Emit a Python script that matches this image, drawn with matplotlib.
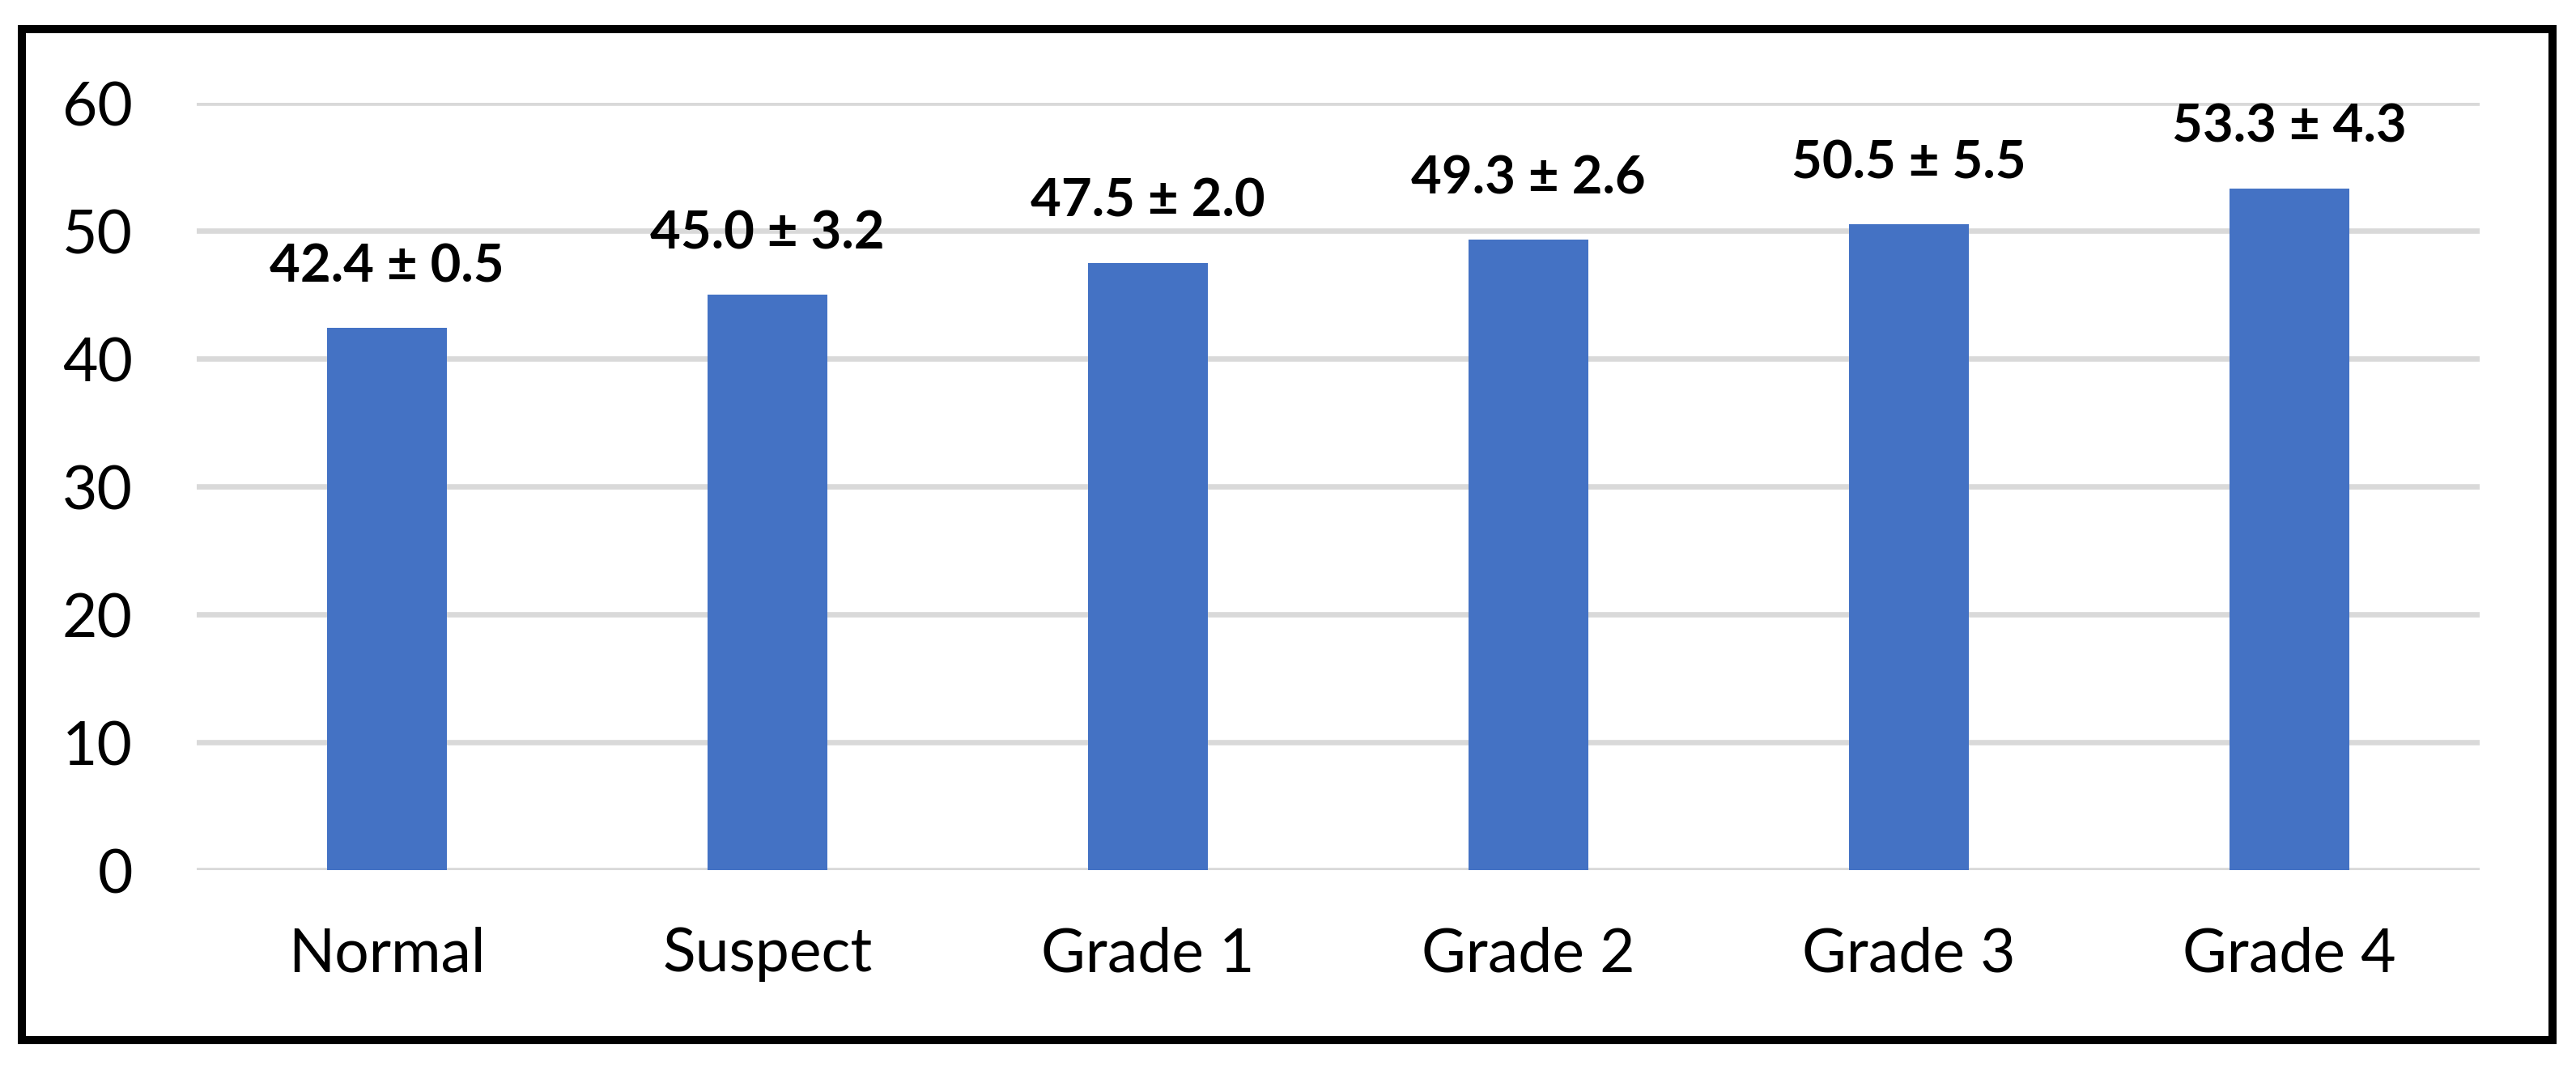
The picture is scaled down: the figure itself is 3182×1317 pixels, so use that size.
import matplotlib
matplotlib.use("Agg")
import matplotlib.pyplot as plt
from matplotlib.patches import Rectangle
import numpy as np

# data
groups = ["Normal", "Suspect", "Grade 1", "Grade 2", "Grade 3", "Grade 4"]
means = [42.4, 45.0, 47.5, 49.3, 50.5, 53.3]
sds = [0.5, 3.2, 2.0, 2.6, 5.5, 4.3]
yticks = [0, 10, 20, 30, 40, 50, 60]

W, H, DPI = 3182, 1317, 100
plt.rcParams['font.family'] = ['Lato', 'DejaVu Sans']

fig = plt.figure(figsize=(W / DPI, H / DPI), dpi=DPI)
ax = fig.add_axes([243 / W, 1 - 1075 / H, (3063 - 243) / W, (1075 - 127) / H])

x = np.arange(len(groups))
ax.bar(x, means, width=0.315, color="#4472C4", zorder=3)

for xi, m, s in zip(x, means, sds):
    ax.annotate("%.1f \u00b1 %.1f" % (m, s), xy=(xi, m), xytext=(0, 41),
                textcoords="offset points", ha="center", va="baseline",
                fontsize=47, fontweight="bold", color="black")

ax.set_xlim(-0.5, len(groups) - 0.5)
ax.set_ylim(0, 60)
ax.set_yticks(yticks)
ax.set_xticks(x)
ax.set_xticklabels(groups)
ax.yaxis.grid(True, color="#D9D9D9", linewidth=4.8, zorder=0)
ax.set_axisbelow(True)
for sp in ax.spines.values():
    sp.set_visible(False)
ax.tick_params(axis="y", length=0, pad=57, labelsize=54)
ax.tick_params(axis="x", length=0, pad=50, labelsize=54)
for lab in ax.get_yticklabels():
    lab.set_clip_on(False)

# black frame around the whole chart
lw = 10
fig.patches.append(Rectangle((27 / W, 1 - 1284.5 / H), (3153 - 27) / W, (1284.5 - 36) / H,
                             transform=fig.transFigure, fill=False,
                             edgecolor="black", linewidth=lw * 72 / DPI))

fig.savefig("out.png", dpi=DPI)
